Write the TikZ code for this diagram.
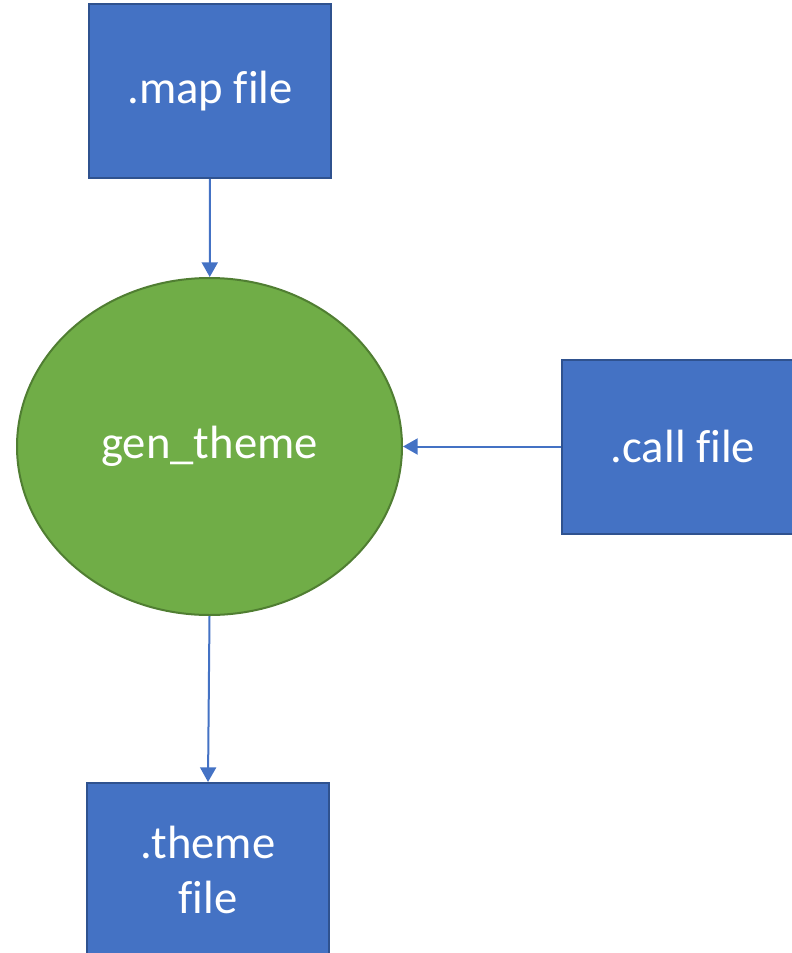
\documentclass[tikz,border=0pt]{standalone}
\usepackage{fontspec}
\setmainfont{Carlito}[Ligatures=CommonOff]
\usepackage{xcolor}
\usetikzlibrary{arrows.meta,shapes.geometric}
\definecolor{boxblue}{HTML}{4472C4}
\definecolor{boxedge}{HTML}{2F528F}
\definecolor{procgreen}{HTML}{70AD47}
\definecolor{procedge}{HTML}{507E32}

\begin{document}
\begin{tikzpicture}[x=0.75pt, y=-0.75pt,
		filebox/.style = {draw=boxedge, fill=boxblue, line width=1.5pt, inner sep=0pt,
			minimum width=181.5pt, minimum height=130.5pt, text=white, align=center,
			font=\fontsize{35}{41}\selectfont},
		proc/.style = {ellipse, draw=procedge, fill=procgreen, line width=1.5pt, inner sep=0pt,
			minimum width=288.75pt, minimum height=252.75pt, text=white,
			font=\fontsize{35}{41}\selectfont},
		flow/.style = {draw=boxblue, line width=1.5pt, -{Triangle[width=12pt,length=11pt]}}]
		\useasboundingbox (0,0) rectangle (792,953);
		
		\node[proc] (gen) at (209.5,446.5) {gen\_theme};
		\node[filebox] (map) at (210,91) {.map file};
		\node[filebox] (call) at (683,446.5) {.call file};
		\node[filebox] (theme) at (208,870) {.theme\\file};
		
		\draw[flow] (map) -- (gen);
		\draw[flow] (call) -- (gen);
		\draw[flow] (gen.south) -- (theme.north);
	\end{tikzpicture}
\end{document}
